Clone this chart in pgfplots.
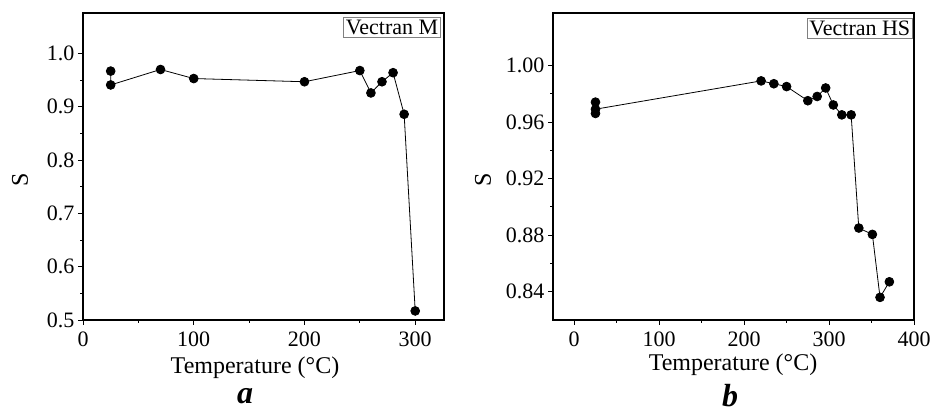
\documentclass[border=0pt]{standalone}
\usepackage{fontspec}
\setmainfont{Liberation Serif}
\usepackage{pgfplots}
\pgfplotsset{compat=1.18}
\tikzset{
 leg/.style={draw=gray, line width=0.6pt, fill=white, inner sep=2.5pt, font=\fontsize{22}{24}\selectfont},
}
\begin{document}
\begin{tikzpicture}
\path[use as bounding box] (0pt,0pt) rectangle (930pt,412pt);
\pgfplotsset{
 every axis/.append style={
  scale only axis, width=361pt, height=307pt,
  axis line style={line width=1.2pt},
  every tick/.style={black, line width=0.8pt},
  tick align=outside,
  xtick pos=bottom, ytick pos=left,
  major tick length=5pt, minor tick length=3pt,
  minor x tick num=1, minor y tick num=1,
  tick label style={font=\fontsize{22}{24}\selectfont},
  xticklabel style={yshift=-3pt},
  /pgf/number format/assume math mode=true,
  clip=false,
 },
 dat/.style={black, line width=0.8pt, mark=*, mark size=4.4pt, mark options={solid}},
}
\begin{axis}[at={(83pt,92pt)}, anchor=south west,
  xmin=0, xmax=326, ymin=0.5, ymax=1.076,
  xtick={0,100,200,300}, ytick={0.5,0.6,0.7,0.8,0.9,1.0},
  yticklabel style={/pgf/number format/.cd, fixed, fixed zerofill, precision=1},
]
\addplot[dat] coordinates {
(25,0.967) (25,0.941) (70,0.970) (100,0.953) (200,0.947) (250,0.968)
(260,0.926) (270,0.947) (280,0.964) (290,0.886) (300,0.517)
};
\node[leg, anchor=north east] at ([xshift=-3pt,yshift=-4pt]rel axis cs:1,1) {Vectran M};
\end{axis}
\begin{axis}[at={(553pt,92pt)}, anchor=south west,
  xmin=-25, xmax=400, ymin=0.82, ymax=1.037,
  xtick={0,100,200,300,400}, ytick={0.84,0.88,0.92,0.96,1.00},
  yticklabel style={/pgf/number format/.cd, fixed, fixed zerofill, precision=2},
]
\addplot[dat] coordinates {
(25,0.974) (25,0.966) (25,0.969) (220,0.989) (235,0.987) (250,0.985)
(275,0.975) (286,0.978) (296,0.984) (305,0.972) (315,0.965) (326,0.965)
(335,0.885) (351,0.8805) (360,0.836) (371,0.847)
};
\node[leg, anchor=north east] at ([xshift=-1pt,yshift=-5pt]rel axis cs:1,1) {Vectran HS};
\end{axis}
\node[font=\fontsize{24}{26}\selectfont] at (255pt,44pt) {Temperature (°C)};
\node[font=\fontsize{24}{26}\selectfont] at (733pt,47pt) {Temperature (°C)};
\node[font=\fontsize{24}{26}\selectfont, rotate=90] at (20pt,232pt) {S};
\node[font=\fontsize{24}{26}\selectfont, rotate=90] at (483pt,232pt) {S};
\node[inner sep=0pt, font=\fontsize{32}{34}\selectfont\bfseries\itshape] at (245pt,16pt) {a};
\node[inner sep=0pt, font=\fontsize{32}{34}\selectfont\bfseries\itshape] at (730pt,16pt) {b};
\end{tikzpicture}
\end{document}
